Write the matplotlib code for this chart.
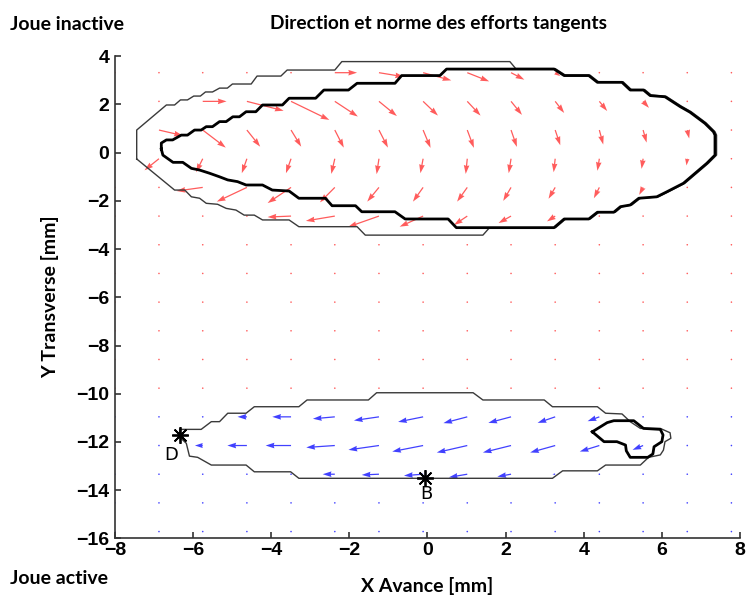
import numpy as np
import matplotlib
matplotlib.use("Agg")
import matplotlib.pyplot as plt

# grille des efforts (mm)
x_grid = [-8.0, -6.87, -5.75, -4.62, -3.49, -2.37, -1.24, -0.11, 1.02, 2.14, 3.27, 4.40, 5.52, 6.65, 7.78]
y_red = [3.32, 2.13, 0.94, -0.25, -1.44, -2.63, -3.82, -5.01, -6.20, -7.39, -8.58, -9.77]
y_blue = [-10.96, -12.15, -13.34, -14.53, -15.72]

zero = [0] * 15

# joue inactive (rouge)
u_red = [
    [0, 0, 0, 0, 0, 0.57, 0.64, 0.72, 0.56, 0.34, 0.13, 0, 0, 0, 0],
    [0, 0, 0.61, 0.94, 0.98, 0.59, 0.46, 0.38, 0.34, 0.28, 0.23, 0.20, 0.15, 0, 0],
    [0, 0.61, 0.59, 0.34, 0.26, 0.23, 0.23, 0.19, 0.17, 0.15, 0.13, 0.10, 0.09, 0.05, 0],
    [0, -0.37, -0.17, -0.13, -0.13, -0.09, -0.06, -0.07, -0.04, -0.06, -0.04, -0.05, -0.04, -0.02, 0],
    [0, 0, -0.67, -0.77, -0.60, -0.38, -0.30, -0.26, -0.26, -0.20, -0.17, -0.14, -0.10, 0, 0],
    [0, 0, 0, 0, -0.60, -0.74, -0.79, -0.60, -0.34, -0.32, -0.21, 0, 0, 0, 0],
    zero, zero, zero, zero, zero, zero,
]
v_red = [
    [0, 0, 0, 0, 0, 0.0, -0.17, -0.32, -0.36, -0.29, -0.14, 0, 0, 0, 0],
    [0, 0, 0, -0.39, -0.77, -0.63, -0.61, -0.59, -0.59, -0.56, -0.48, -0.40, -0.27, 0, 0],
    [0, -0.23, -0.73, -0.69, -0.69, -0.73, -0.73, -0.74, -0.74, -0.70, -0.63, -0.60, -0.52, -0.35, 0],
    [0, -0.48, -0.56, -0.60, -0.60, -0.63, -0.64, -0.60, -0.63, -0.60, -0.56, -0.50, -0.42, -0.28, 0],
    [0, 0, -0.15, -0.59, -0.65, -0.62, -0.59, -0.59, -0.59, -0.56, -0.47, -0.45, -0.31, 0, 0],
    [0, 0, 0, 0, -0.04, -0.20, -0.45, -0.44, -0.37, -0.29, -0.22, 0, 0, 0, 0],
    zero, zero, zero, zero, zero, zero,
]

# joue active (bleu)
u_blue = [
    [0, 0, 0, -0.24, -0.48, -0.56, -0.64, -0.64, -0.61, -0.58, -0.45, -0.30, 0, 0, 0],
    [0, 0, -0.20, -0.50, -0.65, -0.73, -0.78, -0.79, -0.78, -0.72, -0.64, -0.50, -0.27, 0, 0],
    [0, 0, 0, 0, 0, -0.31, -0.44, -0.49, -0.47, -0.35, -0.07, 0, 0, 0, 0],
    zero, zero,
]
v_blue = [
    [0, 0, 0, 0, 0, -0.08, -0.15, -0.21, -0.26, -0.25, -0.25, -0.18, 0, 0, 0],
    [0, 0, 0, 0, 0, -0.08, -0.18, -0.25, -0.29, -0.29, -0.29, -0.25, -0.18, 0, 0],
    [0, 0, 0, 0, 0, 0, -0.03, -0.06, -0.13, -0.10, 0, 0, 0, 0, 0],
    zero, zero,
]

# contours de la zone de contact
top_outer_x = [-7.44, -7.44, -6.68, -6.47, -6.32, -6.14, -5.98, -5.81, -5.68, -5.50, -5.32, -5.12, -4.99, -4.51,
               -4.36, -3.75, -3.59, -2.37, -2.19, 2.11, 2.26, 3.27, 3.53, 4.16, 4.38, 5.01, 5.22, 5.56, 5.73,
               6.11, 6.50, 6.75, 7.13, 7.36, 7.40, 7.40, 7.19, 6.59, 6.17, 5.91, 5.45, 5.23, 4.98, 4.81, 4.39,
               4.17, 3.54, 3.28, 1.59, 1.42, -1.59, -1.80, -3.29, -3.54, -4.22, -4.43, -4.69, -4.90, -5.15,
               -5.37, -5.66, -5.83, -6.04, -6.21, -6.47, -7.44]
top_outer_y = [-0.26, 0.94, 1.98, 1.98, 2.19, 2.19, 2.35, 2.35, 2.52, 2.52, 2.68, 2.68, 2.85, 2.85,
               3.18, 3.18, 3.43, 3.43, 3.78, 3.78, 3.49, 3.49, 3.22, 3.22, 2.94, 2.94, 2.62, 2.62, 2.39,
               2.34, 1.93, 1.70, 1.24, 0.87, 0.73, -0.10, -0.44, -1.27, -1.62, -1.83, -1.89, -2.17, -2.24,
               -2.47, -2.47, -2.75, -2.75, -3.11, -3.11, -3.42, -3.42, -3.07, -3.07, -2.79, -2.79, -2.59,
               -2.59, -2.38, -2.31, -2.14, -2.10, -1.89, -1.83, -1.55, -1.55, -0.26]

top_inner_x = [-6.81, -6.81, -6.68, -6.52, -6.30, -6.14, -5.96, -5.79, -5.66, -5.50, -5.32, -5.15, -4.98, -4.81,
               -4.64, -4.39, -4.22, -3.71, -3.54, -2.86, -2.65, -2.02, -1.80, -0.83, -0.66, 0.32, 0.49, 3.24,
               3.50, 4.13, 4.35, 4.98, 5.19, 5.53, 5.70, 6.08, 6.47, 6.72, 7.10, 7.32, 7.36, 7.36, 7.15, 6.55,
               6.13, 5.87, 5.41, 5.19, 4.94, 4.77, 4.35, 4.13, 3.50, 3.24, 0.74, 0.53, -0.57, -0.83, -1.68,
               -1.84, -2.44, -2.61, -3.29, -3.54, -3.97, -4.22, -4.64, -4.86, -5.11, -5.32, -5.58, -5.83,
               -6.04, -6.26, -6.51, -6.77, -6.81]
top_inner_y = [0.15, 0.40, 0.53, 0.53, 0.73, 0.73, 0.94, 0.94, 1.08, 1.08, 1.29, 1.29, 1.49, 1.49,
               1.70, 1.70, 1.98, 1.98, 2.26, 2.26, 2.60, 2.60, 2.88, 2.88, 3.20, 3.20, 3.47, 3.47,
               3.20, 3.20, 2.92, 2.92, 2.60, 2.60, 2.37, 2.32, 1.91, 1.68, 1.22, 0.87, 0.73, -0.10, -0.44, -1.27,
               -1.62, -1.83, -1.89, -2.17, -2.24, -2.47, -2.47, -2.75, -2.75, -3.11, -3.11, -2.75, -2.75, -2.45,
               -2.45, -2.20, -2.20, -1.89, -1.89, -1.59, -1.55, -1.34, -1.34, -1.20, -1.13, -1.00, -0.85, -0.72,
               -0.65, -0.40, -0.40, -0.10, 0.15]

bot_outer_x = [-6.34, -5.79, -5.53, -5.32, -5.11, -4.64, -4.43, -3.29, -3.08, -1.51, -1.30, 1.17, 1.42, 2.99,
               3.20, 4.35, 4.56, 4.98, 5.19, 5.45, 5.96, 6.21, 6.23, 6.08, 6.04, 5.96, 5.66, 5.45, 4.56, 4.35,
               3.46, 3.20, -3.29, -3.50, -4.43, -4.64, -5.53, -5.88, -6.09, -6.17, -6.34, -6.34]
bot_outer_y = [-11.48, -11.48, -11.16, -11.16, -10.81, -10.81, -10.54, -10.54, -10.26, -10.26, -9.96, -9.96,
               -10.26, -10.26, -10.54, -10.54, -10.81, -10.84, -11.16, -11.44, -11.44, -11.62, -11.85, -11.99,
               -12.34, -12.54, -12.64, -12.96, -12.96, -13.20, -13.20, -13.51, -13.51, -13.24, -13.24, -12.96,
               -12.96, -12.64, -12.59, -12.06, -11.80, -11.48]

bot_inner_x = [4.22, 4.60, 4.77, 5.28, 5.53, 5.96, 6.03, 6.00, 5.80, 5.77, 5.64, 5.19, 5.09, 5.07, 4.85, 4.52, 4.22]
bot_inner_y = [-11.58, -11.20, -11.12, -11.12, -11.44, -11.48, -11.71, -11.99, -12.20, -12.50, -12.64, -12.64,
               -12.37, -12.13, -11.99, -11.99, -11.58]

# points D et B
pts_x = [-6.34, -0.06]
pts_y = [-11.71, -13.51]
pts_lab = ["D", "B"]
lab_x = [-6.57, -0.03]
lab_y = [-12.54, -14.16]

fig = plt.figure(figsize=(7.47, 5.97), dpi=100)
ax = fig.add_axes([0.1537, 0.0983, (740 - 114.8) / 747, 0.8074])

qkw = dict(angles="xy", scale_units="xy", scale=1, width=0.002, headwidth=4.5,
           headlength=7, headaxislength=6.5, minlength=1.4)

X, Y = np.meshgrid(x_grid, y_red)
ax.quiver(X, Y, np.array(u_red), np.array(v_red), color="#ff3333", alpha=0.8, **qkw)
X, Y = np.meshgrid(x_grid, y_blue)
ax.quiver(X, Y, np.array(u_blue), np.array(v_blue), color="#2020ff", alpha=0.85, **qkw)

ax.plot(top_outer_x, top_outer_y, color="#3a3a3a", lw=1.0)
ax.plot(top_inner_x, top_inner_y, color="black", lw=2.0)
ax.plot(bot_outer_x, bot_outer_y, color="#3a3a3a", lw=1.0)
ax.plot(bot_inner_x, bot_inner_y, color="black", lw=2.0)

ax.plot(pts_x, pts_y, linestyle="none", marker=(8, 2, 0), markersize=12, mew=1.3, color="black")
for px, py, t in zip(lab_x, lab_y, pts_lab):
    ax.text(px, py, t, fontsize=13, ha="center", va="center", color="black")

ax.set_xlim(-8, 8)
ax.set_ylim(-16, 4)
ax.set_xticks(np.arange(-8, 9, 2))
ax.set_yticks(np.arange(-16, 5, 2))
ax.spines["top"].set_visible(False)
ax.spines["right"].set_visible(False)
for s in ["left", "bottom"]:
    ax.spines[s].set_linewidth(1.2)
    ax.spines[s].set_color("#333333")
ax.tick_params(direction="in", length=4, width=1.2, color="#333333")
ax.tick_params(axis="x", pad=3)
ax.tick_params(axis="y", pad=4)
for lab in ax.get_xticklabels() + ax.get_yticklabels():
    lab.set_family(["Liberation Sans", "DejaVu Sans"])
    lab.set_fontweight("bold")
    lab.set_fontsize(14)

tfont = ["Lato", "DejaVu Sans"]
fig.text(439 / 747, 1 - 24 / 597, "Direction et norme des efforts tangents", family=tfont,
         fontweight="bold", fontsize=13.8, ha="center", va="center")
fig.text(10 / 747, 1 - 25 / 597, "Joue inactive", family=tfont, fontweight="bold", fontsize=14,
         ha="left", va="center")
fig.text(10 / 747, 1 - 579 / 597, "Joue active", family=tfont, fontweight="bold", fontsize=14,
         ha="left", va="center")
fig.text(427 / 747, 1 - 586 / 597, "X Avance [mm]", family=tfont, fontweight="bold", fontsize=14,
         ha="center", va="center")
fig.text(50 / 747, 1 - 297 / 597, "Y Transverse [mm]", family=tfont, fontweight="bold", fontsize=14,
         ha="center", va="center", rotation=90)

fig.savefig("out.png", dpi=100)
